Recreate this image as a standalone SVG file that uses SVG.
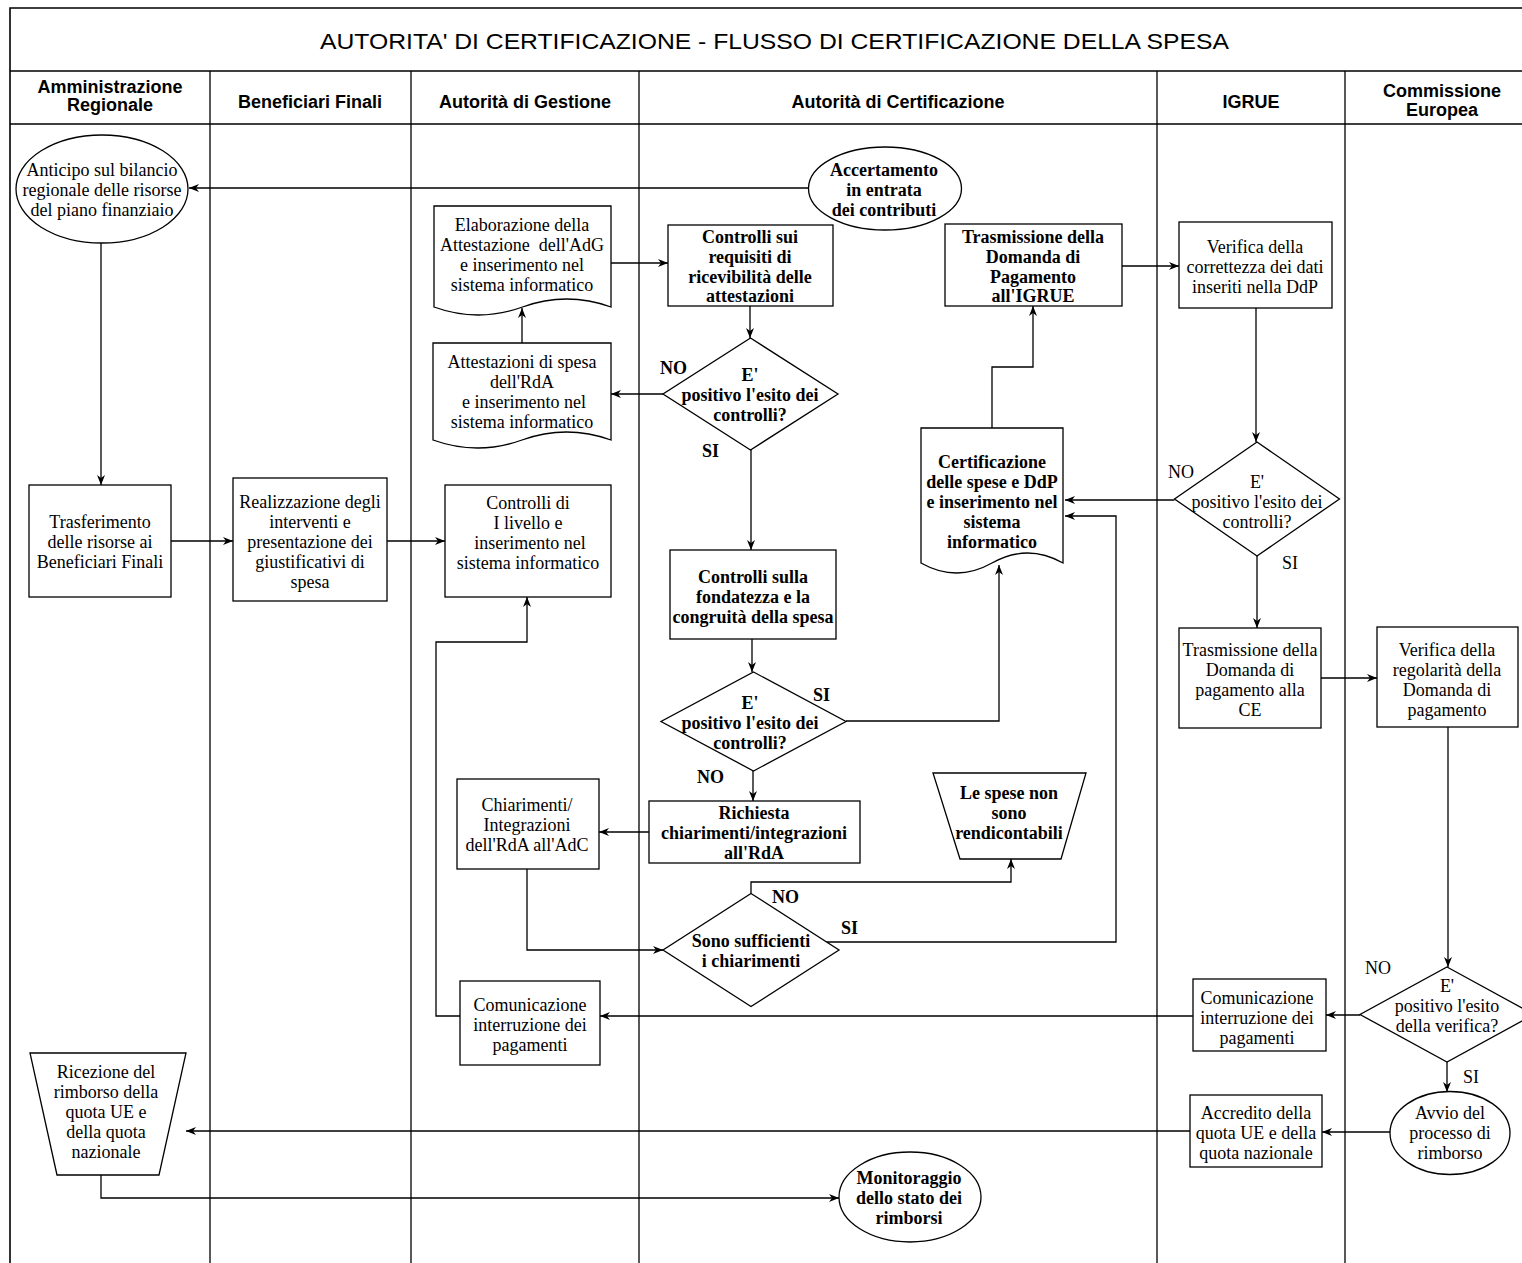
<svg xmlns="http://www.w3.org/2000/svg" width="1522" height="1263" viewBox="0 0 1522 1263">
<style>
.pool{fill:none;stroke:#000;stroke-width:1.6}
.lane{fill:none;stroke:#000;stroke-width:1.3}
.n{fill:#fff;stroke:#000;stroke-width:1.3}
.t{font-family:"Liberation Serif","Times New Roman",serif;font-size:18px;text-anchor:middle;fill:#000}
.b{font-weight:bold}
.l{font-family:"Liberation Serif","Times New Roman",serif;font-size:18px;fill:#000}
.h{font-family:"Liberation Sans",Arial,sans-serif;font-weight:bold;font-size:18px;text-anchor:middle;fill:#000}
.title{font-family:"Liberation Sans",Arial,sans-serif;font-size:22px;fill:#000}
.c{fill:none;stroke:#000;stroke-width:1.3;marker-end:url(#a)}
</style>
<defs>
<marker id="a" viewBox="0 0 10 10" refX="10" refY="5" markerWidth="10" markerHeight="10" markerUnits="userSpaceOnUse" orient="auto">
<path d="M0,1 L10,5 L0,9 L3,5 z" fill="#000"/>
</marker>
</defs>
<rect width="1522" height="1263" fill="#fff"/>
<g id="pool">
<path class="pool" d="M10,1263 V8 H1539 M10,71 H1539 M10,124 H1539"/>
<path class="lane" d="M210,71 V1263 M411,71 V1263 M639,71 V1263 M1157,71 V1263 M1345,71 V1263"/>
<text class="title" x="320" y="49" textLength="909" lengthAdjust="spacingAndGlyphs">AUTORITA' DI CERTIFICAZIONE - FLUSSO DI CERTIFICAZIONE DELLA SPESA</text>
<text class="h" x="110" y="93">Amministrazione<tspan x="110" y="111">Regionale</tspan></text>
<text class="h" x="310" y="108">Beneficiari Finali</text>
<text class="h" x="525" y="108">Autorità di Gestione</text>
<text class="h" x="898" y="108">Autorità di Certificazione</text>
<text class="h" x="1251" y="108">IGRUE</text>
<text class="h" x="1442" y="97">Commissione<tspan x="1442" y="116">Europea</tspan></text>
</g>
<g id="connectors">
<path class="c" d="M808,188 H189"/>
<path class="c" d="M101,243 V485"/>
<path class="c" d="M171,541 H233"/>
<path class="c" d="M387,541 H445"/>
<path class="c" d="M611,263 H668"/>
<path class="c" d="M522,343 V308"/>
<path class="c" d="M750,306 V338"/>
<path class="c" d="M663,394 H611"/>
<path class="c" d="M751,450 V550"/>
<path class="c" d="M752,639 V672"/>
<path class="c" d="M846,721 H999 V565"/>
<path class="c" d="M753,771 V801"/>
<path class="c" d="M649,832 H599"/>
<path class="c" d="M527,869 V950 H663"/>
<path class="c" d="M751,893.5 V882 H1011 V859"/>
<path class="c" d="M826,942 H1116 V516 H1065"/>
<path class="c" d="M992,428 V367 H1033 V306"/>
<path class="c" d="M1122,266 H1179"/>
<path class="c" d="M1256,308 V442"/>
<path class="c" d="M1174.5,500 H1065"/>
<path class="c" d="M1257,556 V628"/>
<path class="c" d="M1321,678 H1377"/>
<path class="c" d="M1448,727 V967"/>
<path class="c" d="M1360,1015 H1326"/>
<path class="c" d="M1193,1016 H600"/>
<path class="c" d="M460,1016 H436 V642 H527 V597"/>
<path class="c" d="M1447,1062 V1092"/>
<path class="c" d="M1390,1132 H1322"/>
<path class="c" d="M1190,1131 H186"/>
<path class="c" d="M101,1175 V1198 H839"/>
<text class="l b" x="660" y="374">NO</text>
<text class="l b" x="702" y="457">SI</text>
<text class="l" x="1168" y="478">NO</text>
<text class="l" x="1282" y="569">SI</text>
<text class="l b" x="813" y="701">SI</text>
<text class="l b" x="697" y="783">NO</text>
<text class="l b" x="772" y="903">NO</text>
<text class="l b" x="841" y="934">SI</text>
<text class="l" x="1365" y="974">NO</text>
<text class="l" x="1463" y="1083">SI</text>
</g>
<g id="anticipo">
<ellipse class="n" cx="102" cy="189" rx="86" ry="54"/>
<text class="t" x="102" y="176">Anticipo sul bilancio<tspan x="102" y="196">regionale delle risorse</tspan><tspan x="102" y="216">del piano finanziaio</tspan></text>
</g>
<g id="accertamento">
<ellipse class="n" cx="885" cy="188.5" rx="76.5" ry="41.5"/>
<text class="t b" x="884" y="176">Accertamento<tspan x="884" y="196">in entrata</tspan><tspan x="884" y="216">dei contributi</tspan></text>
</g>
<g id="elaborazione">
<path class="n" d="M434,206 H611 V307 Q566.75,291 522.5,307 Q478.25,323 434,307 Z"/>
<text class="t" x="522" y="231">Elaborazione della<tspan x="522" y="251">Attestazione&#160; dell'AdG</tspan><tspan x="522" y="271">e inserimento nel</tspan><tspan x="522" y="291">sistema informatico</tspan></text>
</g>
<g id="controlli-requisiti">
<rect class="n" x="668" y="225" width="165" height="81"/>
<text class="t b" x="750" y="243">Controlli sui<tspan x="750" y="263">requisiti di</tspan><tspan x="750" y="283">ricevibilità delle</tspan><tspan x="750" y="302">attestazioni</tspan></text>
</g>
<g id="trasmissione-igrue">
<rect class="n" x="945" y="224" width="177" height="82"/>
<text class="t b" x="1033" y="243">Trasmissione della<tspan x="1033" y="263">Domanda di</tspan><tspan x="1033" y="283">Pagamento</tspan><tspan x="1033" y="302">all'IGRUE</tspan></text>
</g>
<g id="verifica-correttezza">
<rect class="n" x="1179" y="222" width="153" height="86"/>
<text class="t" x="1255" y="253">Verifica della<tspan x="1255" y="273">correttezza dei dati</tspan><tspan x="1255" y="293">inseriti nella DdP</tspan></text>
</g>
<g id="attestazioni">
<path class="n" d="M433,343 H611 V440 Q566.5,424 522,440 Q477.5,456 433,440 Z"/>
<text class="t" x="522" y="368">Attestazioni di spesa<tspan x="522" y="388">dell'RdA</tspan><tspan x="524" y="408">e inserimento nel</tspan><tspan x="522" y="428">sistema informatico</tspan></text>
</g>
<g id="esito-1">
<polygon class="n" points="750.5,338 838,394 750.5,450 663,394"/>
<text class="t b" x="750" y="381">E'<tspan x="750" y="401">positivo l'esito dei</tspan><tspan x="750" y="421">controlli?</tspan></text>
</g>
<g id="fondatezza">
<rect class="n" x="670" y="550" width="166" height="89"/>
<text class="t b" x="753" y="583">Controlli sulla<tspan x="753" y="603">fondatezza e la</tspan><tspan x="753" y="623">congruità della spesa</tspan></text>
</g>
<g id="controlli-livello">
<rect class="n" x="445" y="485" width="166" height="112"/>
<text class="t" x="528" y="509">Controlli di<tspan x="528" y="529">I livello e</tspan><tspan x="530" y="549">inserimento nel</tspan><tspan x="528" y="569">sistema informatico</tspan></text>
</g>
<g id="trasferimento">
<rect class="n" x="29" y="485" width="142" height="112"/>
<text class="t" x="100" y="528">Trasferimento<tspan x="100" y="548">delle risorse ai</tspan><tspan x="100" y="568">Beneficiari Finali</tspan></text>
</g>
<g id="realizzazione">
<rect class="n" x="233" y="478" width="154" height="123"/>
<text class="t" x="310" y="508">Realizzazione degli<tspan x="310" y="528">interventi e</tspan><tspan x="310" y="548">presentazione dei</tspan><tspan x="310" y="568">giustificativi di</tspan><tspan x="310" y="588">spesa</tspan></text>
</g>
<g id="certificazione">
<path class="n" d="M921,428 H1063 V563 Q1027.5,543 992,563 Q956.5,583 921,563 Z"/>
<text class="t b" x="992" y="468">Certificazione<tspan x="992" y="488">delle spese e DdP</tspan><tspan x="992" y="508">e inserimento nel</tspan><tspan x="992" y="528">sistema</tspan><tspan x="992" y="548">informatico</tspan></text>
</g>
<g id="esito-igrue">
<polygon class="n" points="1257,442 1339.5,499 1257,556 1174.5,499"/>
<text class="t" x="1257" y="488">E'<tspan x="1257" y="508">positivo l'esito dei</tspan><tspan x="1257" y="528">controlli?</tspan></text>
</g>
<g id="trasmissione-ce">
<rect class="n" x="1179" y="628" width="142" height="100"/>
<text class="t" x="1250" y="656">Trasmissione della<tspan x="1250" y="676">Domanda di</tspan><tspan x="1250" y="696">pagamento alla</tspan><tspan x="1250" y="716">CE</tspan></text>
</g>
<g id="verifica-regolarita">
<rect class="n" x="1377" y="627" width="141" height="100"/>
<text class="t" x="1447" y="656">Verifica della<tspan x="1447" y="676">regolarità della</tspan><tspan x="1447" y="696">Domanda di</tspan><tspan x="1447" y="716">pagamento</tspan></text>
</g>
<g id="esito-ce">
<polygon class="n" points="1447,967 1534,1014.5 1447,1062 1360,1014.5"/>
<text class="t" x="1447" y="992">E'<tspan x="1447" y="1012">positivo l'esito</tspan><tspan x="1447" y="1032">della verifica?</tspan></text>
</g>
<g id="comunicazione-igrue">
<rect class="n" x="1193" y="979" width="133" height="72"/>
<text class="t" x="1257" y="1004">Comunicazione<tspan x="1257" y="1024">interruzione dei</tspan><tspan x="1257" y="1044">pagamenti</tspan></text>
</g>
<g id="accredito">
<rect class="n" x="1190" y="1095" width="132" height="72"/>
<text class="t" x="1256" y="1119">Accredito della<tspan x="1256" y="1139">quota UE e della</tspan><tspan x="1256" y="1159">quota nazionale</tspan></text>
</g>
<g id="avvio">
<ellipse class="n" cx="1450" cy="1133" rx="60" ry="41.5"/>
<text class="t" x="1450" y="1119">Avvio del<tspan x="1450" y="1139">processo di</tspan><tspan x="1450" y="1159">rimborso</tspan></text>
</g>
<g id="ricezione">
<polygon class="n" points="30,1053 186,1053 159,1175 57,1175"/>
<text class="t" x="106" y="1078">Ricezione del<tspan x="106" y="1098">rimborso della</tspan><tspan x="106" y="1118">quota UE e</tspan><tspan x="106" y="1138">della quota</tspan><tspan x="106" y="1158">nazionale</tspan></text>
</g>
<g id="monitoraggio">
<ellipse class="n" cx="910" cy="1197" rx="71" ry="45"/>
<text class="t b" x="909" y="1184">Monitoraggio<tspan x="909" y="1204">dello stato dei</tspan><tspan x="909" y="1224">rimborsi</tspan></text>
</g>
<g id="comunicazione-adg">
<rect class="n" x="460" y="981" width="140" height="84"/>
<text class="t" x="530" y="1011">Comunicazione<tspan x="530" y="1031">interruzione dei</tspan><tspan x="530" y="1051">pagamenti</tspan></text>
</g>
<g id="esito-2">
<polygon class="n" points="753.5,672 846,721.5 753.5,771 661,721.5"/>
<text class="t b" x="750" y="709">E'<tspan x="750" y="729">positivo l'esito dei</tspan><tspan x="750" y="749">controlli?</tspan></text>
</g>
<g id="richiesta">
<rect class="n" x="649" y="801" width="211" height="62"/>
<text class="t b" x="754" y="819">Richiesta<tspan x="754" y="839">chiarimenti/integrazioni</tspan><tspan x="754" y="859">all'RdA</tspan></text>
</g>
<g id="chiarimenti">
<rect class="n" x="457" y="779" width="142" height="90"/>
<text class="t" x="527" y="811">Chiarimenti/<tspan x="527" y="831">Integrazioni</tspan><tspan x="527" y="851">dell'RdA all'AdC</tspan></text>
</g>
<g id="sufficienti">
<polygon class="n" points="751,893.5 839,950 751,1006.5 663,950"/>
<text class="t b" x="751" y="947">Sono sufficienti<tspan x="751" y="967">i chiarimenti</tspan></text>
</g>
<g id="non-rendicontabili">
<polygon class="n" points="933,773 1086,773 1061,859 960,859"/>
<text class="t b" x="1009" y="799">Le spese non<tspan x="1009" y="819">sono</tspan><tspan x="1009" y="839">rendicontabili</tspan></text>
</g>
</svg>
